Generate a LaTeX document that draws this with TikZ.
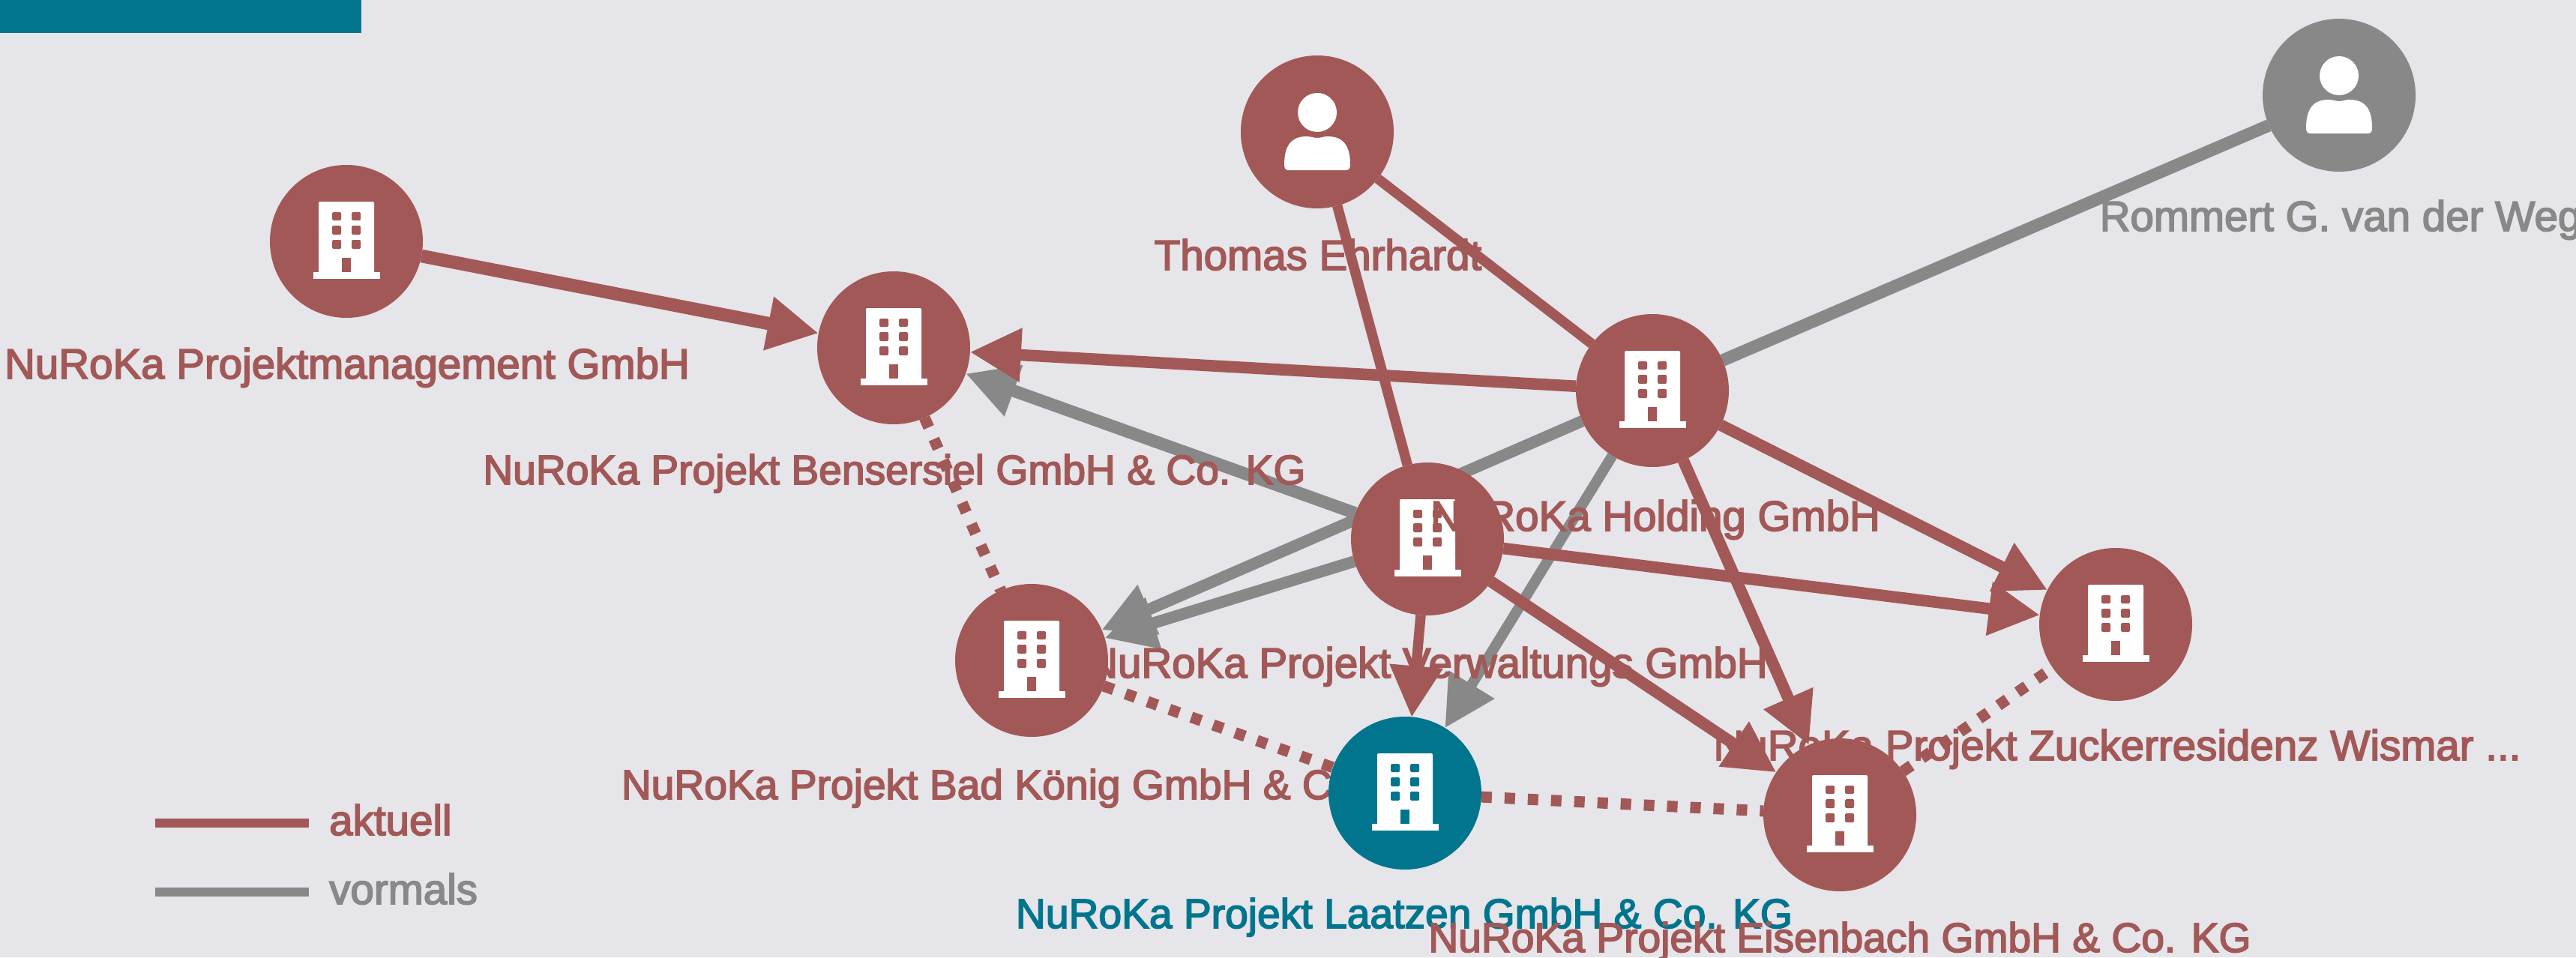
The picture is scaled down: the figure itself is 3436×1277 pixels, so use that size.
\documentclass[tikz,border=0pt]{standalone}
\usepackage{fontspec}
\setmainfont{Liberation Sans}[FakeBold=3]
\usetikzlibrary{arrows.meta}
\definecolor{rot}{HTML}{A25856}
\definecolor{petrol}{HTML}{00758D}
\definecolor{grau}{HTML}{888888}
\definecolor{hinter}{HTML}{E5E5EA}
\pgfdeclarelayer{edges}
\pgfsetlayers{edges,main}
\tikzset{
  unit/.style={circle,minimum size=204pt,inner sep=0pt,outer sep=0pt,draw=none},
  lab/.style={anchor=base,inner sep=0pt,font=\fontsize{56.5}{64}\selectfont},
  labco/.style={lab,font=\fontsize{55.2}{64}\selectfont},
  redwide/.style={draw=rot,line width=17.5pt},
  redline/.style={draw=rot,line width=15.5pt},
  redthin/.style={draw=rot,line width=13.5pt},
  greyline/.style={draw=grau,line width=15.5pt},
  greywide/.style={draw=grau,line width=16.5pt},
  greythin/.style={draw=grau,line width=14pt},
  legline/.style={line width=12pt},
  arrowed/.style={-{Triangle[length=68pt,width=68pt]}},
  dotline/.style={draw=rot,line width=15pt,dash pattern=on 14pt off 17pt},
  bldg/.pic={
    \fill[white,rounded corners=2pt] (-37,-53) rectangle (37,47);
    \fill[white] (-44,41) rectangle (45,50);
    \fill[#1,rounded corners=1.5pt] (-19,-39) rectangle (-7,-28) (7,-39) rectangle (19,-28)
              (-19,-21) rectangle (-7,-9) (7,-21) rectangle (19,-9)
              (-19,-2) rectangle (-7,10) (7,-2) rectangle (19,10);
    \fill[#1] (-6,22) rectangle (6,41);
  },
  persn/.pic={
    \fill[white] (0,-26) circle (26);
    \fill[white] (-44,44) .. controls (-44,20) and (-36,6) .. (-14,6)
      .. controls (-8,6) and (-5,8) .. (0,8)
      .. controls (5,8) and (8,6) .. (14,6)
      .. controls (36,6) and (44,20) .. (44,44)
      .. controls (44,49) and (42,51) .. (38,51) -- (-38,51)
      .. controls (-42,51) and (-44,49) .. (-44,44) -- cycle;
  }
}
\begin{document}
\begin{tikzpicture}[x=1pt,y=-1pt]
\useasboundingbox (0,0) rectangle (3436,1277);
\begin{pgfonlayer}{edges}
\fill[hinter] (0,0) rectangle (3436,1277);
\fill[petrol] (0,0) rectangle (482,44);
\end{pgfonlayer}

\node[unit,fill=rot] (pm) at (462,322) {};
\pic at (pm.center) {bldg=rot};
\node[lab,text=rot] (pmL) at (463,505) {NuRoKa Projektmanagement GmbH};

\node[unit,fill=rot] (bens) at (1192,464) {};
\pic at (bens.center) {bldg=rot};
\node[labco,text=rot] (bensL) at (1193,646) {NuRoKa Projekt Bensersiel GmbH \& Co. KG};

\node[unit,fill=rot] (thomas) at (1757,176) {};
\pic at (thomas.center) {persn};
\node[lab,text=rot] (thomasL) at (1758,360) {Thomas Ehrhardt};

\node[unit,fill=grau] (rommert) at (3120,127) {};
\pic at (rommert.center) {persn};
\node[lab,text=grau] (rommertL) at (3122,308) {Rommert G. van der Weg};

\node[unit,fill=rot] (bad) at (1376,881) {};
\pic at (bad.center) {bldg=rot};
\node[labco,text=rot] (badL) at (1376,1066) {NuRoKa Projekt Bad König GmbH \& Co. KG};

\node[unit,fill=rot] (verw) at (1904,719) {};
\pic at (verw.center) {bldg=rot};
\node[lab,text=rot] (verwL) at (1904,904) {NuRoKa Projekt Verwaltungs GmbH};

\node[unit,fill=rot] (hold) at (2204,521) {};
\pic at (hold.center) {bldg=rot};
\node[lab,text=rot] (holdL) at (2208,708) {NuRoKa Holding GmbH};

\node[unit,fill=petrol] (laat) at (1874,1058) {};
\pic at (laat.center) {bldg=petrol};
\node[labco,text=petrol] (laatL) at (1873,1238) {NuRoKa Projekt Laatzen GmbH \& Co. KG};

\node[unit,fill=rot] (zuck) at (2822,833) {};
\pic at (zuck.center) {bldg=rot};
\node[lab,text=rot] (zuckL) at (2824,1014) {NuRoKa Projekt Zuckerresidenz Wismar ...};

\node[unit,fill=rot] (eisen) at (2454,1087) {};
\pic at (eisen.center) {bldg=rot};
\node[labco,text=rot] (eisenL) at (2454,1270) {NuRoKa Projekt Eisenbach GmbH \& Co. KG};

\coordinate (la1) at (207,1098);
\coordinate (la2) at (412,1098);
\coordinate (lv1) at (207,1190);
\coordinate (lv2) at (412,1190);
\node[lab,text=rot,anchor=base west] (legA) at (439,1114) {aktuell};
\node[lab,text=grau,anchor=base west] (legV) at (439,1206) {vormals};

\begin{pgfonlayer}{edges}
\draw[draw=rot,legline] (la1) -- (la2);
\draw[draw=grau,legline] (lv1) -- (lv2);
\draw[greywide] (rommert) -- (hold);
\draw[greyline,arrowed] (hold) -- (bad);
\draw[greyline,arrowed] (verw) -- (bad);
\draw[greywide,arrowed] (verw) -- (bens);
\draw[greythin,arrowed] (hold) -- (laat);
\draw[dotline] (bens) -- (bad);
\draw[dotline] (bad) -- (laat);
\draw[dotline] (laat) -- (eisen);
\draw[dotline] (eisen) -- (zuck);
\draw[redwide,arrowed] (pm) -- (bens);
\draw[redline,arrowed] (hold) -- (bens);
\draw[redthin] (thomas) -- (hold);
\draw[redthin] (thomas) -- (verw);
\draw[redline,arrowed] (hold) -- (zuck);
\draw[redline,arrowed] (hold) -- (eisen);
\draw[redline,arrowed] (verw) -- (zuck);
\draw[redline,arrowed] (verw) -- (eisen);
\draw[redthin,arrowed] (verw) -- (laat);
\end{pgfonlayer}
\end{tikzpicture}
\end{document}
